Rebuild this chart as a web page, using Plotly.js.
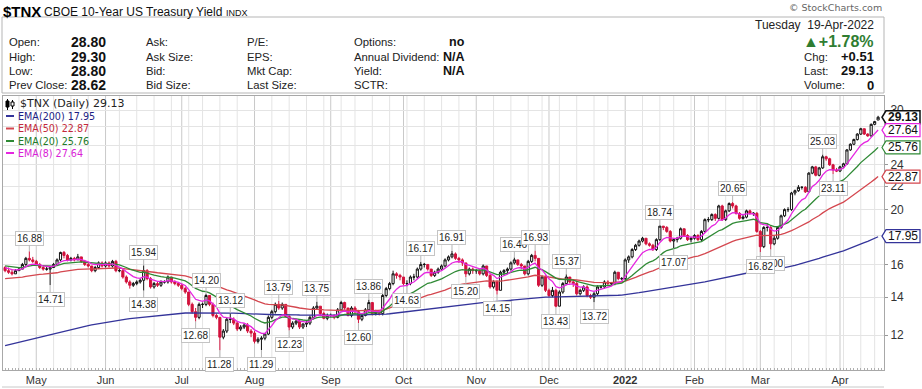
<!DOCTYPE html>
<html><head><meta charset="utf-8">
<script src="https://cdn.plot.ly/plotly-3.0.1.min.js"></script>
<style>html,body{margin:0;padding:0;background:#fff;} #chart{width:922px;height:389px;}</style>
</head><body><div id="chart"></div>
<script>
// ---------------- DATA ----------------
const startDate = '2021-04-20';
const holidays = ['2021-05-31','2021-07-05','2021-09-06','2021-11-25','2021-12-24','2022-01-17','2022-02-21','2022-04-15'];

const openV = [
15.8,15.6,15.5,15.4,15.6,15.7,16.0,16.4,16.3,16.2,
16.0,15.8,15.7,15.7,15.8,16.0,16.3,16.8,16.6,16.3,
16.4,16.3,16.5,16.2,16.0,15.9,15.6,15.8,16.1,15.9,
16.1,15.9,16.2,15.6,15.6,15.2,14.9,14.7,14.8,14.9,
15.0,15.6,15.1,14.6,14.8,14.7,14.9,14.9,15.2,14.9,
14.8,14.7,14.5,14.3,13.6,13.2,12.9,13.6,13.6,14.1,
13.6,13.0,12.9,11.9,12.2,12.8,12.8,12.6,12.3,12.4,
12.5,12.2,12.1,11.7,11.8,11.85,12.05,12.9,13.2,13.6,
13.4,13.6,12.95,12.4,12.6,12.7,12.4,12.55,12.6,12.9,
13.4,13.5,13.1,12.85,13.0,13.0,12.9,13.3,13.7,13.4,
13.0,13.4,13.2,12.8,13.0,13.3,13.7,13.1,13.2,13.1,
14.1,14.5,14.8,15.4,15.3,15.2,14.8,14.8,15.2,15.2,
15.7,16.0,16.0,15.7,15.3,15.5,15.7,15.9,16.3,16.5,
16.7,16.4,16.3,16.1,15.4,15.7,15.6,15.6,15.4,15.9,
15.3,14.6,14.9,14.4,15.5,15.6,15.7,16.1,16.3,16.0,
15.9,15.4,16.2,16.6,16.4,14.7,15.2,14.4,14.1,14.4,
13.5,14.3,14.8,15.2,14.9,14.8,14.2,14.4,14.6,14.1,
14.0,14.2,14.6,14.6,14.9,14.8,14.8,15.5,15.1,15.1,
16.3,16.5,17.0,17.3,17.6,17.8,17.4,17.3,17.0,17.7,
18.7,18.6,18.3,17.6,17.7,17.8,18.5,18.0,17.7,17.8,
18.0,17.7,18.3,19.2,19.2,19.6,19.3,20.3,19.2,19.9,
20.5,20.3,19.7,19.3,19.4,19.9,19.7,19.7,18.3,17.2,
18.6,18.6,17.4,17.8,18.6,19.5,20.0,20.0,21.4,21.6,
21.9,21.9,21.5,23.2,23.8,23.0,23.7,24.8,24.6,24.0,
23.5,23.4,23.8,24.1,25.5,26.1,26.6,27.2,27.8,27.2,
27.0,28.3,28.80];
const highV = [
15.9,15.8,15.7,15.7,15.8,16.1,16.5,16.88,16.5,16.3,
16.1,15.9,15.9,15.9,16.1,16.4,16.85,16.9,16.7,16.5,
16.5,16.7,16.5,16.3,16.1,15.9,15.9,16.2,16.2,16.2,
16.2,16.3,16.3,15.8,15.7,15.3,15.0,14.9,15.0,15.1,
15.94,15.7,15.2,14.9,14.9,15.0,15.0,15.3,15.2,15.0,
14.9,14.8,14.6,14.3,13.7,13.4,13.7,13.7,14.2,14.1,
13.7,13.1,12.9,12.3,12.9,13.12,12.9,12.7,12.5,12.6,
12.6,12.3,12.2,11.9,11.95,12.1,13.0,13.3,13.7,13.79,
13.7,13.6,13.0,12.7,12.8,12.75,12.6,12.7,13.0,13.5,
13.75,13.5,13.2,13.1,13.1,13.05,13.4,13.8,13.75,13.4,
13.5,13.5,13.3,13.1,13.4,13.86,13.7,13.3,13.3,14.2,
14.6,14.9,15.6,15.5,15.4,15.2,15.0,15.3,15.4,15.8,
16.17,16.1,16.0,15.7,15.6,15.8,16.0,16.4,16.6,16.91,
16.8,16.5,16.4,16.1,15.8,15.8,15.7,15.7,16.0,15.9,
15.4,15.0,15.0,15.6,15.7,15.8,16.2,16.46,16.3,16.1,
15.9,16.3,16.7,16.93,16.4,15.3,15.3,14.5,14.6,14.5,
14.4,14.9,15.37,15.2,15.0,14.9,14.5,14.7,14.7,14.2,
14.3,14.7,14.7,15.0,15.0,14.9,15.6,15.5,15.2,16.4,
16.6,17.1,17.4,17.7,17.9,17.8,17.5,17.4,17.8,18.74,
18.7,18.7,18.4,17.8,17.9,18.6,18.5,18.1,17.9,18.1,
18.1,18.4,19.3,19.4,19.7,19.7,20.4,20.4,20.0,20.6,
20.65,20.4,19.8,19.6,20.0,20.0,19.8,19.8,18.4,18.7,
18.9,18.7,18.0,18.7,19.6,20.1,20.2,21.5,21.7,22.1,
22.0,22.0,23.3,23.9,23.9,23.8,25.03,24.9,24.7,24.1,
23.7,23.9,24.2,25.6,26.2,26.7,27.3,27.9,27.8,27.3,
28.4,28.7,29.30];
const lowV = [
15.5,15.4,15.3,15.4,15.6,15.7,15.9,16.2,16.1,15.9,
15.7,15.6,15.6,14.71,15.8,15.9,16.2,16.4,16.2,16.2,
16.2,16.3,16.1,15.9,15.8,15.5,15.5,15.7,15.8,15.8,
15.8,15.8,15.5,15.5,15.1,14.8,14.5,14.6,14.7,14.8,
14.38,15.0,14.5,14.5,14.6,14.6,14.8,14.8,14.8,14.7,
14.6,14.4,14.2,13.5,13.1,12.68,12.8,13.4,13.5,13.5,
12.9,12.8,11.28,11.8,12.1,12.6,12.5,12.2,12.2,12.3,
12.1,11.9,11.6,11.6,11.29,11.75,12.0,12.8,13.1,13.3,
13.3,12.9,12.23,12.3,12.5,12.3,12.3,12.4,12.5,12.8,
13.3,13.0,12.8,12.75,12.9,12.8,12.85,13.2,13.3,12.95,
12.9,13.1,12.60,12.7,12.95,13.2,13.0,13.0,13.0,13.0,
14.0,14.4,14.7,15.1,15.0,14.7,14.63,14.7,15.0,15.1,
15.6,15.8,15.6,15.2,15.2,15.4,15.6,15.8,16.2,16.4,
16.3,16.1,15.9,15.20,15.3,15.4,15.4,15.3,15.3,15.2,
14.5,14.5,14.15,14.4,15.3,15.4,15.6,16.0,15.9,15.7,
15.3,15.3,16.1,16.2,14.6,14.6,14.3,14.0,14.0,13.43,
13.5,14.2,14.7,14.8,14.6,14.1,14.1,14.3,14.0,13.9,
13.72,14.1,14.5,14.5,14.7,14.7,14.7,15.0,15.0,15.0,
16.1,16.4,16.9,17.2,17.5,17.3,17.2,16.9,16.9,17.6,
18.4,18.2,17.5,17.07,17.5,17.7,17.9,17.6,17.5,17.7,
17.6,17.6,18.2,19.0,19.1,19.1,19.2,19.1,19.1,19.8,
20.1,19.6,19.2,19.2,19.3,19.6,19.5,18.2,16.82,17.1,
18.3,17.00,17.3,17.7,18.5,19.4,19.8,19.9,21.2,21.5,
21.7,21.4,21.5,23.1,22.9,22.9,23.6,24.4,23.9,23.11,
23.3,23.3,23.7,24.0,25.4,26.0,26.5,27.1,27.1,26.9,
26.9,28.2,28.80];
const closeV = [
15.6,15.5,15.4,15.6,15.7,16.0,16.4,16.3,16.2,16.0,
15.8,15.7,15.7,15.8,16.0,16.3,16.8,16.6,16.3,16.4,
16.3,16.5,16.2,16.0,15.9,15.6,15.8,16.1,15.9,16.1,
15.9,16.2,15.6,15.6,15.2,14.9,14.7,14.8,14.9,15.0,
15.6,15.1,14.6,14.8,14.7,14.9,14.9,15.2,14.9,14.8,
14.7,14.5,14.3,13.6,13.2,12.9,13.6,13.6,14.1,13.6,
13.0,12.9,11.9,12.2,12.8,12.8,12.6,12.3,12.4,12.5,
12.2,12.1,11.7,11.8,11.85,12.05,12.9,13.2,13.6,13.4,
13.6,12.95,12.4,12.6,12.7,12.4,12.55,12.6,12.9,13.4,
13.5,13.1,12.85,13.0,13.0,12.9,13.3,13.7,13.4,13.0,
13.4,13.2,12.8,13.0,13.3,13.7,13.1,13.2,13.1,14.1,
14.5,14.8,15.4,15.3,15.2,14.8,14.8,15.2,15.2,15.7,
16.0,16.0,15.7,15.3,15.5,15.7,15.9,16.3,16.5,16.7,
16.4,16.3,16.1,15.4,15.7,15.6,15.6,15.4,15.9,15.3,
14.6,14.9,14.4,15.5,15.6,15.7,16.1,16.3,16.0,15.9,
15.4,16.2,16.6,16.4,14.7,15.2,14.4,14.1,14.4,13.5,
14.3,14.8,15.2,14.9,14.8,14.2,14.4,14.6,14.1,14.0,
14.2,14.6,14.6,14.9,14.8,14.8,15.5,15.1,15.1,16.3,
16.5,17.0,17.3,17.6,17.8,17.4,17.3,17.0,17.7,18.7,
18.6,18.3,17.6,17.7,17.8,18.5,18.0,17.7,17.8,18.0,
17.7,18.3,19.2,19.2,19.6,19.3,20.3,19.2,19.9,20.5,
20.3,19.7,19.3,19.4,19.9,19.7,19.7,18.3,17.2,18.6,
18.6,17.4,17.8,18.6,19.5,20.0,20.0,21.4,21.6,21.9,
21.9,21.5,23.2,23.8,23.0,23.7,24.8,24.6,24.0,23.5,
23.4,23.8,24.1,25.5,26.1,26.6,27.2,27.8,27.2,27.0,
28.3,28.62,29.13];

const monthLabels = ['May','Jun','Jul','Aug','Sep','Oct','Nov','Dec','<b>2022</b>','Feb','Mar','Apr'];
const yTickVals = [12,14,16,18,20,22,24,26,28,30];
const yTickText = ['12','14','16','','20','22','24','','','30'];

const emaNames   = ['EMA(200)','EMA(50)','EMA(20)','EMA(8)'];
const emaPeriods = [200,50,20,8];
const emaSeeds   = [11.5,15.1,15.9,15.8];
const emaLast    = ['17.95','22.87','25.76','27.64'];

const peakIdx  = [7,13,40,40,58,55,65,62,74,79,82,90,102,105,116,120,129,133,142,147,153,162,159,170,189,193,210,221,218,236,239];
const peakVal  = [16.88,14.71,15.94,14.38,14.20,12.68,13.12,11.28,11.29,13.79,12.23,13.75,12.60,13.86,14.63,16.17,16.91,15.20,14.15,16.46,16.93,15.37,13.43,13.72,18.74,17.07,20.65,17.00,16.82,25.03,23.11];
const peakSide = ['H','L','H','L','H','L','H','L','L','H','L','H','L','H','L','H','H','L','L','H','H','H','L','L','H','L','H','L','L','H','L'];

// header info
const quoteLabels1 = ['Open:','High:','Low:','Prev Close:'];
const quoteValues1 = ['28.80','29.30','28.80','28.62'];
const quoteLabels2 = ['Ask:','Ask Size:','Bid:','Bid Size:'];
const quoteLabels3 = ['P/E:','EPS:','Mkt Cap:','Last Size:'];
const quoteLabels4 = ['Options:','Annual Dividend:','Yield:','SCTR:'];
const quoteValues4 = ['no','N/A','N/A',''];
const rightLabels = ['Chg:','Last:','Volume:'];
const rightValues = ['+0.51','29.13','0'];

// ---------------- STYLE ----------------
const emaColors = ['#34349a','#d4474f','#2f8a35','#e526e0'];
const emaTextColors = ['#1d1d85','#c42a3c','#237a28','#d91ed6'];
const RED = '#d2123c', BLK = '#111';
const W = 922, H = 389, ML = 3, MR = 38, MT = 96, MB = 19;
const PW = W - ML - MR, PH = H - MT - MB;
const yLo = 1.0175, yHi = 1.5019;
const px = x => (x - ML) / PW;
const py = y => (H - MB - y) / PH;
const pyVal = v => (Math.log10(v) - yLo) / (yHi - yLo);
const SANS = 'Liberation Sans, Arial';

// ---------------- CALENDAR ----------------
const n = closeV.length;
const dates = [];
{ let d = new Date(startDate + 'T00:00:00Z');
  while (dates.length < n) {
    const dow = d.getUTCDay(), s = d.toISOString().slice(0, 10);
    if (dow !== 0 && dow !== 6 && !holidays.includes(s)) dates.push(s);
    d.setUTCDate(d.getUTCDate() + 1);
  } }
const idx = dates.map((_, i) => i);
const monthStarts = [], weekStarts = [];
for (let i = 1; i < n; i++) {
  if (dates[i].slice(5, 7) !== dates[i - 1].slice(5, 7)) monthStarts.push(i);
  const a = new Date(dates[i] + 'T00:00:00Z').getUTCDay(), b = new Date(dates[i - 1] + 'T00:00:00Z').getUTCDay();
  if (a < b) weekStarts.push(i);
}

// ---------------- TRACES ----------------
function ema(vals, p, seed) { const k = 2 / (p + 1); const out = [seed]; for (let i = 1; i < vals.length; i++) out.push(out[i - 1] + k * (vals[i] - out[i - 1])); return out; }
const traces = [];
emaPeriods.forEach((p, j) => {
  traces.push({ type: 'scatter', mode: 'lines', x: idx, y: ema(closeV, p, emaSeeds[j]),
    line: { color: emaColors[j], width: 1.3 }, hoverinfo: 'skip' });
});
const grp = { b: { x: [], o: [], h: [], l: [], c: [] }, r: { x: [], o: [], h: [], l: [], c: [] } };
for (let i = 0; i < n; i++) {
  const prev = i === 0 ? openV[0] : closeV[i - 1];
  const g = closeV[i] >= prev ? grp.b : grp.r;
  g.x.push(i); g.o.push(openV[i]); g.h.push(highV[i]); g.l.push(lowV[i]); g.c.push(closeV[i]);
}
[['b', BLK], ['r', RED]].forEach(([k, col]) => {
  const g = grp[k];
  traces.push({ type: 'candlestick', x: g.x, open: g.o, high: g.h, low: g.l, close: g.c,
    increasing: { line: { color: col, width: 1 }, fillcolor: '#ffffff' },
    decreasing: { line: { color: col, width: 1 }, fillcolor: col },
    whiskerwidth: 0, hoverinfo: 'skip' });
});

// ---------------- SHAPES ----------------
const shapes = [];
weekStarts.forEach(i => { if (!monthStarts.includes(i)) shapes.push({ type: 'line', layer: 'below', xref: 'x', yref: 'paper', x0: i, x1: i, y0: 0, y1: 1, line: { color: '#e4e4e4', width: 1 } }); });
monthStarts.forEach(i => shapes.push({ type: 'line', layer: 'below', xref: 'x', yref: 'paper', x0: i, x1: i, y0: 0, y1: 1, line: { color: '#c9c9c9', width: 1 } }));
shapes.push({ type: 'rect', xref: 'paper', yref: 'paper', x0: px(2), x1: px(884), y0: py(93), y1: py(17), line: { color: '#b5b5b5', width: 1 }, fillcolor: 'rgba(0,0,0,0)' });
shapes.push({ type: 'line', xref: 'paper', yref: 'paper', x0: px(2), x1: px(884), y0: py(387), y1: py(387), line: { color: '#c8c8c8', width: 1 } });
[116, 128.5, 141, 153].forEach((y, j) => shapes.push({ type: 'line', xref: 'paper', yref: 'paper', x0: px(6), x1: px(14), y0: py(y), y1: py(y), line: { color: emaColors[j], width: 2 } }));
shapes.push({ type: 'line', xref: 'paper', yref: 'paper', x0: px(7.5), x1: px(7.5), y0: py(99), y1: py(110), line: { color: '#000', width: 1 } });
shapes.push({ type: 'rect', xref: 'paper', yref: 'paper', x0: px(6), x1: px(9), y0: py(101), y1: py(107), line: { color: '#000', width: 1 }, fillcolor: '#000' });
shapes.push({ type: 'line', xref: 'paper', yref: 'paper', x0: px(12.5), x1: px(12.5), y0: py(100), y1: py(109), line: { color: '#000', width: 1 } });
shapes.push({ type: 'rect', xref: 'paper', yref: 'paper', x0: px(11), x1: px(14), y0: py(102), y1: py(106), line: { color: '#000', width: 1 }, fillcolor: '#fff' });

// right-side value tags (last close + EMA values)
const tagColorsOrdered = ['#111', emaColors[3], emaColors[2], emaColors[1], emaColors[0]];
const tagOrderVals = [closeV[n - 1], Number(emaLast[3]), Number(emaLast[2]), Number(emaLast[1]), Number(emaLast[0])];
const tagOrderText = ['<b>' + closeV[n - 1].toFixed(2) + '</b>', emaLast[3], emaLast[2], emaLast[1], emaLast[0]];
const annotations = [];
tagOrderVals.forEach((v, j) => {
  const yc = pyVal(v), hh = 6.5 / PH;
  const xa = px(882), xb = px(886), xc = px(920);
  shapes.push({ type: 'path', xref: 'paper', yref: 'paper',
    path: `M ${xa},${yc} L ${xb},${yc + hh} L ${xc},${yc + hh} L ${xc},${yc - hh} L ${xb},${yc - hh} Z`,
    fillcolor: '#fff', line: { color: tagColorsOrdered[j], width: j === 0 ? 1.5 : 1.2 } });
  annotations.push({ xref: 'paper', yref: 'paper', x: px(903), y: yc, xanchor: 'center', yanchor: 'middle', showarrow: false,
    text: tagOrderText[j], font: { family: SANS, size: 12, color: '#111' } });
});

// ---------------- ANNOTATIONS ----------------
const hdr = (x, y, text, opt = {}) => annotations.push(Object.assign({ xref: 'paper', yref: 'paper', x: px(x), y: py(y), xanchor: 'left', yanchor: 'middle', showarrow: false, text,
  font: { family: SANS, size: 11.3, color: '#222' } }, opt));
hdr(1, 11, '<b>$TNX</b>', { font: { family: SANS, size: 15, color: '#000' } });
hdr(42, 12, 'CBOE 10-Year US Treasury Yield', { font: { family: SANS, size: 12, color: '#111' } });
hdr(224, 12.5, 'INDX', { font: { family: SANS, size: 9, color: '#111' } });
hdr(884, 8, '© StockCharts.com', { xanchor: 'right', font: { family: 'DejaVu Sans', size: 9.5, color: '#666' } });
const rows = [42, 57, 71, 85];
rows.forEach((y, r) => {
  hdr(7, y, quoteLabels1[r]);
  hdr(108, y, '<b>' + quoteValues1[r] + '</b>', { xanchor: 'right', font: { family: SANS, size: 14, color: '#111' } });
  hdr(144, y, quoteLabels2[r]);
  hdr(245, y, quoteLabels3[r]);
  hdr(352, y, quoteLabels4[r]);
  if (quoteValues4[r]) hdr(467, y, '<b>' + quoteValues4[r] + '</b>', { xanchor: 'right', font: { family: SANS, size: 12.5, color: '#111' } });
});
hdr(876, 25, 'Tuesday&nbsp;&nbsp;19-Apr-2022', { xanchor: 'right', font: { family: SANS, size: 12, color: '#222' } });
hdr(876, 42, '<b>▲+1.78%</b>', { xanchor: 'right', font: { family: SANS, size: 16, color: '#2f7d32' } });
[57, 71, 85].forEach((y, r) => {
  hdr(802, y, rightLabels[r]);
  hdr(876, y, '<b>' + rightValues[r] + '</b>', { xanchor: 'right', font: { family: SANS, size: 13, color: '#111' } });
});
hdr(18, 104, '$TNX (Daily) ' + closeV[n - 1].toFixed(2), { font: { family: 'DejaVu Sans', size: 11, color: '#222' } });
[116, 128.5, 141, 153].forEach((y, j) => hdr(15.5, y, emaNames[j] + ' ' + emaLast[j], { font: { family: 'DejaVu Sans', size: 9.6, color: emaTextColors[j] } }));
peakIdx.forEach((i, j) => {
  const hi = peakSide[j] === 'H';
  annotations.push({ xref: 'x', yref: 'y', x: i, y: Math.log10(peakVal[j]), text: peakVal[j].toFixed(2),
    showarrow: true, arrowhead: 0, arrowwidth: 1, arrowcolor: '#b5b5b5', ax: 0, ay: hi ? -13 : 14,
    bgcolor: '#ffffff', bordercolor: '#c4c4c4', borderwidth: 1, borderpad: 1,
    font: { family: SANS, size: 10, color: '#222' } });
});

// ---------------- LAYOUT ----------------
const layout = {
  width: W, height: H, margin: { l: ML, r: MR, t: MT, b: MB, pad: 0 },
  paper_bgcolor: '#fff', plot_bgcolor: '#fff', showlegend: false, hovermode: false,
  boxgap: 0.12,
  xaxis: { range: [-0.6, 253.7], tickvals: monthStarts, ticktext: monthLabels, showgrid: false, zeroline: false,
    ticks: '', tickfont: { family: SANS, size: 11, color: '#333' },
    showline: true, mirror: true, linecolor: '#a8a8a8', linewidth: 1, rangeslider: { visible: false },
    minor: { dtick: 1, tick0: 0, ticks: 'inside', ticklen: 2, tickcolor: '#b0b0b0', showgrid: false } },
  yaxis: { type: 'log', side: 'right', range: [yLo, yHi], tickvals: yTickVals, ticktext: yTickText,
    gridcolor: '#e4e4e4', zeroline: false, ticks: 'outside', ticklen: 3, tickcolor: '#999',
    tickfont: { family: SANS, size: 12, color: '#333' },
    showline: true, mirror: true, linecolor: '#a8a8a8', linewidth: 1 },
  shapes, annotations
};
Plotly.newPlot('chart', traces, layout, { displayModeBar: false, staticPlot: true });
</script></body></html>
